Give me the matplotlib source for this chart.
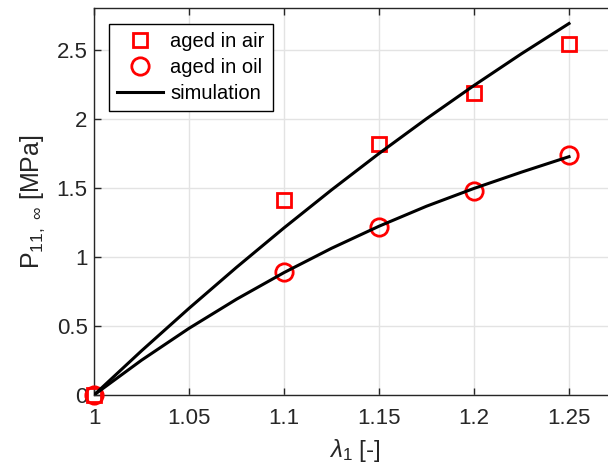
import matplotlib
matplotlib.use("Agg")
import matplotlib.pyplot as plt

plt.rcParams['font.family'] = ['Liberation Sans', 'DejaVu Sans']
plt.rcParams['mathtext.fontset'] = 'custom'
plt.rcParams['mathtext.rm'] = 'Liberation Sans'
plt.rcParams['mathtext.it'] = 'Liberation Sans:italic'
plt.rcParams['mathtext.default'] = 'regular'

# Experimental data
lam_exp = [1.0, 1.1, 1.15, 1.2, 1.25]
p_air = [0.0, 1.41, 1.82, 2.19, 2.54]
p_oil = [0.0, 0.89, 1.22, 1.48, 1.74]

# Simulation curves
lam_sim = [1.0, 1.025, 1.05, 1.075, 1.1, 1.125, 1.15, 1.175, 1.2, 1.225, 1.25]
sim_air = [0.0, 0.32, 0.628, 0.925, 1.211, 1.486, 1.75, 2.002, 2.243, 2.473, 2.692]
sim_oil = [0.0, 0.252, 0.483, 0.694, 0.887, 1.063, 1.223, 1.368, 1.497, 1.615, 1.727]

xticks = [1.0, 1.05, 1.1, 1.15, 1.2, 1.25]
xticklabels = ['1', '1.05', '1.1', '1.15', '1.2', '1.25']
yticks = [0, 0.5, 1, 1.5, 2, 2.5]
yticklabels = ['0', '0.5', '1', '1.5', '2', '2.5']

W, H = 608, 473
fig = plt.figure(figsize=(W / 100, H / 100), dpi=100)
left, top, bottom = 94, 8, 395
x0, x1 = 1.0, 1.275
px_per_unit = 1900.0
right = left + (x1 - x0) * px_per_unit
ax = fig.add_axes([left / W, 1 - bottom / H, (right - left) / W, (bottom - top) / H])

sq, = ax.plot(lam_exp, p_air, linestyle='none', marker='s', markersize=10,
              markerfacecolor='none', markeredgecolor='#ff0000', markeredgewidth=2,
              label='aged in air', zorder=3, clip_on=False)
ci, = ax.plot(lam_exp, p_oil, linestyle='none', marker='o', markersize=12.5,
              markerfacecolor='none', markeredgecolor='#ff0000', markeredgewidth=2,
              label='aged in oil', zorder=3, clip_on=False)
ln, = ax.plot(lam_sim, sim_air, color='black', linewidth=2.2, label='simulation',
              zorder=4, solid_joinstyle='round')
ax.plot(lam_sim, sim_oil, color='black', linewidth=2.2, zorder=4, solid_joinstyle='round')

ax.set_xlim(x0, x1)
ax.set_ylim(0, (bottom - top) / 138.0)
ax.set_xticks(xticks)
ax.set_xticklabels(xticklabels)
ax.set_yticks(yticks)
ax.set_yticklabels(yticklabels)

ax.grid(True, color='#e3e3e3', linewidth=1)
ax.set_axisbelow(True)
ax.tick_params(direction='in', length=5, width=1, colors='#262626', labelsize=16,
               top=True, right=False)
ax.tick_params(axis='x', pad=9)
ax.tick_params(axis='y', pad=4.5)
for s in ['left', 'bottom', 'top']:
    ax.spines[s].set_color('#262626')
    ax.spines[s].set_linewidth(1)
ax.spines['right'].set_visible(False)

ax.set_xlabel(r'$\mathit{\lambda}_1$ [-]', fontsize=17.5, color='#262626', labelpad=6)
ax.set_ylabel(r'P$_{11,\ \infty}$ [MPa]', fontsize=18, color='#262626', labelpad=7)

leg = ax.legend(handles=[sq, ci, ln], loc='upper left',
                bbox_to_anchor=((109 - left) / (right - left), 1 - (24 - top) / (bottom - top)),
                fontsize=14.5, frameon=True, fancybox=False, framealpha=1,
                edgecolor='black', borderpad=0.4, handlelength=2.3, handletextpad=0.35,
                labelspacing=0.35, borderaxespad=0)
leg.get_frame().set_linewidth(1)

fig.savefig('out.png', dpi=100)
